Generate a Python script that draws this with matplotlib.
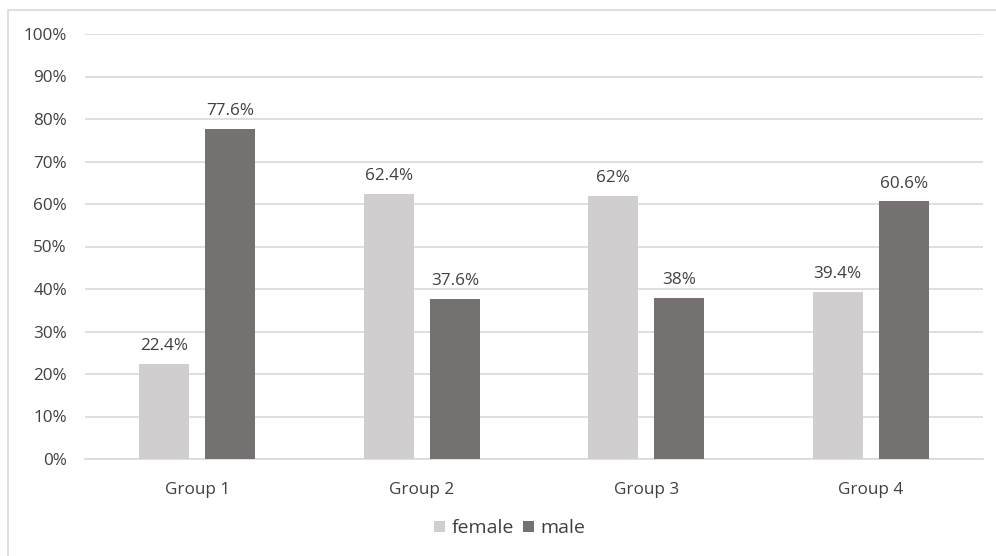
import matplotlib
matplotlib.use("Agg")
import matplotlib.pyplot as plt
import numpy as np
from matplotlib.patches import Rectangle

groups = ["Group 1", "Group 2", "Group 3", "Group 4"]
female = [22.4, 62.4, 62.0, 39.4]
male = [77.6, 37.6, 38.0, 60.6]
female_labels = ["22.4%", "62.4%", "62%", "39.4%"]
male_labels = ["77.6%", "37.6%", "38%", "60.6%"]
yticks = list(range(0, 101, 10))

plt.rcParams['font.family'] = ['Open Sans', 'DejaVu Sans']
text_color = "#404040"
fs = 12.3

fig = plt.figure(figsize=(9.96, 5.56), dpi=100)
ax = fig.add_axes([85 / 996, 1 - 459 / 556, 898 / 996, 425 / 556])

x = np.arange(len(groups))
w = 0.222
off = 0.147
b1 = ax.bar(x - off, female, w, color="#D0CECE", label="female", zorder=3)
b2 = ax.bar(x + off, male, w, color="#767171", label="male", zorder=3)

for bars, labels in [(b1, female_labels), (b2, male_labels)]:
    for bar, lab in zip(bars, labels):
        ax.annotate(lab, (bar.get_x() + bar.get_width() / 2, bar.get_height()),
                    xytext=(0, 7), textcoords="offset points", ha="center",
                    va="bottom", fontsize=fs, color=text_color)

ax.set_xlim(-0.5, len(groups) - 0.5)
ax.set_ylim(0, 100)
ax.set_yticks(yticks)
ax.set_yticklabels([f"{t}%" for t in yticks])
ax.set_xticks(x)
ax.set_xticklabels(groups)
ax.tick_params(axis="both", length=0, labelsize=fs, labelcolor=text_color)
ax.tick_params(axis="y", pad=13)
ax.tick_params(axis="x", pad=16.5)
ax.yaxis.grid(True, color="#D9D9D9", linewidth=1.2, zorder=0)
for s in ["top", "right", "left"]:
    ax.spines[s].set_visible(False)
ax.spines["bottom"].set_color("#D9D9D9")
ax.spines["bottom"].set_linewidth(1.2)

ax.legend(loc="center", bbox_to_anchor=(0.473, -0.163), ncol=2, frameon=False,
          prop={'size': 14}, labelcolor=text_color, handlelength=0.55,
          handleheight=0.55, handletextpad=0.35, columnspacing=0.45)

# outer chart border (left and top only visible)
fig.patches.append(Rectangle((8 / 996, -0.1), 1.2, 1 - 10 / 556 + 0.1,
                             transform=fig.transFigure, fill=False,
                             edgecolor="#D9D9D9", linewidth=1.2))

fig.savefig("out.png", dpi=100)
